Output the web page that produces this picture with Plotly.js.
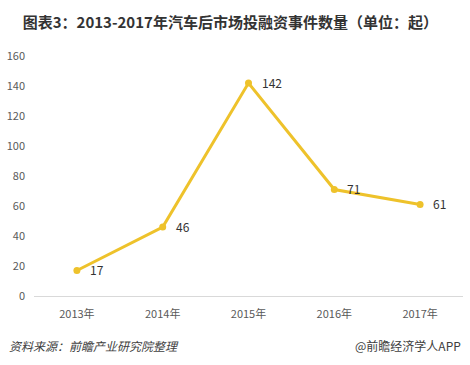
<!DOCTYPE html>
<html>
<head>
<meta charset="utf-8">
<script src="https://cdn.plot.ly/plotly-3.0.1.min.js"></script>
<style>html,body{margin:0;padding:0;background:#fff;}#chart{width:470px;height:365px;}</style>
</head>
<body>
<div id="chart"></div>
<script>
var years = ['2013年', '2014年', '2015年', '2016年', '2017年'];
var events = [17, 46, 142, 71, 61];
var yTicks = [0, 20, 40, 60, 80, 100, 120, 140, 160];

var FONT = '"Noto Sans CJK SC", "Noto Sans", sans-serif';

var trace = {
  type: 'scatter',
  mode: 'lines+markers',
  x: years,
  y: events,
  line: {color: '#EEC22B', width: 3},
  marker: {color: '#EEC22B', size: 7},
  cliponaxis: false,
  hoverinfo: 'x+y'
};

var labelAnns = years.map(function (yr, i) {
  return {
    x: yr, y: events[i], xref: 'x', yref: 'y',
    text: String(events[i]), showarrow: false,
    xanchor: 'left', yanchor: 'middle', xshift: 11, yshift: 1,
    font: {family: FONT, size: 12, color: '#333333'}
  };
});

var layout = {
  width: 470,
  height: 365,
  margin: {l: 34, r: 7, t: 56, b: 69},
  paper_bgcolor: '#ffffff',
  plot_bgcolor: '#ffffff',
  showlegend: false,
  font: {family: FONT, size: 11, color: '#595959'},
  title: {
    text: '<b>图表3：2013-2017年汽车后市场投融资事件数量（单位：起）</b>',
    font: {family: FONT, size: 15, color: '#333333'},
    x: 0.49, xanchor: 'center', y: 0.937, yanchor: 'middle'
  },
  xaxis: {
    type: 'category',
    range: [-0.5, 4.5],
    showgrid: false,
    zeroline: false,
    showline: true,
    linecolor: '#d9d9d9',
    linewidth: 1,
    ticks: '',
    tickfont: {family: FONT, size: 11, color: '#595959'},
    ticklabelstandoff: 8
  },
  yaxis: {
    range: [0, 160],
    tickvals: yTicks,
    showgrid: false,
    zeroline: false,
    showline: false,
    ticks: '',
    tickfont: {family: FONT, size: 11, color: '#595959'},
    ticklabelstandoff: 8
  },
  annotations: labelAnns.concat([
    {
      text: '<i>资料来源：前瞻产业研究院整理</i>',
      xref: 'paper', yref: 'paper', x: -0.062, y: -0.205,
      xanchor: 'left', yanchor: 'middle', showarrow: false,
      font: {family: FONT, size: 12, color: '#404040'}
    },
    {
      text: '@前瞻经济学人APP',
      xref: 'paper', yref: 'paper', x: 1.0, y: -0.205,
      xanchor: 'right', yanchor: 'middle', showarrow: false,
      font: {family: FONT, size: 12, color: '#404040'}
    }
  ])
};

Plotly.newPlot('chart', [trace], layout, {displayModeBar: false, staticPlot: true});
</script>
</body>
</html>
